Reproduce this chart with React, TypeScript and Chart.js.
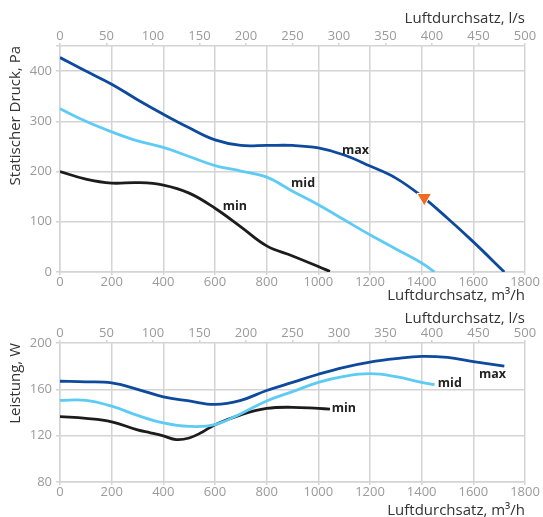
import React, { useEffect, useRef } from "react";
import { Chart, registerables } from "chart.js";

Chart.register(...registerables);

// ---------- data ----------
// Top chart: static pressure (Pa) vs air flow (m³/h)
const pMaxFlow = [0, 100, 200, 300, 400, 500, 600, 700, 800, 900, 1000, 1100, 1200, 1300, 1400, 1500, 1600, 1720];
const pMaxPa = [427, 400, 374, 343, 314, 287, 263, 252, 252, 252, 247, 233, 211, 187, 151, 107, 60, 0];

const pMidFlow = [0, 100, 200, 300, 400, 500, 600, 700, 800, 900, 1000, 1100, 1200, 1300, 1400, 1450];
const pMidPa = [325, 300, 279, 261, 248, 230, 212, 201, 189, 161, 134, 104, 74, 46, 18, 0];

const pMinFlow = [0, 100, 200, 300, 400, 500, 600, 700, 800, 900, 1000, 1045];
const pMinPa = [200, 185, 177, 178, 173, 157, 127, 90, 52, 32, 11, 1];

const markerFlow = [1410];
const markerPa = [148];

// Bottom chart: power (W) vs air flow (m³/h)
const wMaxFlow = [0, 100, 200, 300, 400, 500, 600, 700, 800, 900, 1000, 1100, 1200, 1300, 1400, 1500, 1600, 1720];
const wMaxW = [167, 166.5, 165.5, 160, 153.5, 150, 147, 150.5, 159, 166, 173, 179, 183.5, 186.5, 188.5, 187.5, 184, 180];

const wMidFlow = [0, 100, 200, 300, 400, 500, 600, 700, 800, 900, 1000, 1100, 1200, 1300, 1400, 1450];
const wMidW = [150.5, 150.5, 145.5, 137.5, 131, 128, 129.5, 139, 150, 158, 166, 171.2, 173.5, 171, 166, 164];

const wMinFlow = [0, 100, 200, 300, 350, 400, 450, 500, 550, 600, 700, 800, 900, 1000, 1045];
const wMinW = [136.5, 135, 132, 125, 122.5, 119.8, 116.6, 118, 123, 129.5, 138, 143.5, 144.5, 143.5, 143];

// curve labels (data coordinates)
const labelText = ["max", "mid", "min"];
const pLabelFlow = [1144, 941, 677];
const pLabelPa = [235, 169, 123];
const wLabelFlow = [1674, 1509, 1099];
const wLabelW = [169.8, 162, 140.4];

// axes
const flowMax = 1800;
const flowStep = 200;
const lsMax = 500;
const lsStep = 50;

// ---------- styles ----------
const FONT = "'Open Sans', 'Noto Sans', sans-serif";
const gridColor = "#d4d4d4";
const tickColor = "#9a9a9a";
const titleColor = "#333333";
const colMax = "#0d4a9e";
const colMid = "#5ecbf5";
const colMin = "#1c1c1c";
const colMarker = "#f26a21";

const pts = (xs: number[], ys: number[]) => xs.map((x, i) => ({ x, y: ys[i] }));

const labelPlugin = (xs: number[], ys: number[]) => ({
  id: "curveLabels",
  afterDatasetsDraw(chart: any) {
    const { ctx, scales } = chart;
    ctx.save();
    ctx.font = `bold 12.5px ${FONT}`;
    ctx.fillStyle = "#222222";
    ctx.textAlign = "center";
    ctx.textBaseline = "alphabetic";
    labelText.forEach((t, i) => {
      ctx.fillText(t, scales.x.getPixelForValue(xs[i]), scales.y.getPixelForValue(ys[i]));
    });
    ctx.restore();
  },
});

function lineDs(data: any[], color: string) {
  return {
    type: "line",
    data,
    borderColor: color,
    borderWidth: 2.8,
    pointRadius: 0,
    fill: false,
    tension: 0.4,
  };
}

const plainNum = (v: number) => String(v);

function makeOptions(p: {
  yMin: number;
  yMax: number;
  yStep: number;
  yLabelMax: number;
  yTitle: string;
  topH: number;
  bottomH: number;
  topTitlePad: number;
  bottomTitlePad: number;
}) {
  return {
    responsive: false,
    animation: false,
    layout: { padding: { left: 0, right: 18, top: 0, bottom: 0 } },
    plugins: { legend: { display: false }, tooltip: { enabled: false } },
    scales: {
      x: {
        type: "linear",
        position: "bottom",
        min: 0,
        max: flowMax,
        ticks: {
          stepSize: flowStep,
          color: tickColor,
          font: { family: FONT, size: 13 },
          padding: -1,
          maxRotation: 0,
          callback: plainNum,
        },
        grid: { color: gridColor, lineWidth: 1.5, tickLength: 3 },
        border: { color: gridColor, width: 1.5 },
        title: {
          display: true,
          text: "Luftdurchsatz, m³/h",
          align: "end",
          color: titleColor,
          font: { family: FONT, size: 15 },
          padding: { top: 0, bottom: p.bottomTitlePad },
        },
        afterFit: (s: any) => {
          s.height = p.bottomH;
        },
      },
      x2: {
        type: "linear",
        position: "top",
        min: 0,
        max: lsMax,
        ticks: {
          stepSize: lsStep,
          color: tickColor,
          font: { family: FONT, size: 13 },
          padding: -1,
          maxRotation: 0,
          callback: plainNum,
        },
        grid: { drawOnChartArea: false, color: gridColor, lineWidth: 1.5, tickLength: 3 },
        border: { display: false },
        title: {
          display: true,
          text: "Luftdurchsatz, l/s",
          align: "end",
          color: titleColor,
          font: { family: FONT, size: 15 },
          padding: { top: p.topTitlePad, bottom: 0 },
        },
        afterFit: (s: any) => {
          s.height = p.topH;
        },
      },
      y: {
        type: "linear",
        position: "left",
        min: p.yMin,
        max: p.yMax,
        ticks: {
          stepSize: p.yStep,
          color: tickColor,
          font: { family: FONT, size: 13 },
          padding: 4,
          callback: (v: number) => (v > p.yLabelMax ? "" : String(v)),
        },
        grid: { color: gridColor, lineWidth: 1.5, tickLength: 4 },
        border: { color: gridColor, width: 1.5 },
        title: {
          display: true,
          text: p.yTitle,
          align: "end",
          color: titleColor,
          font: { family: FONT, size: 15 },
          padding: { top: 6.5, bottom: 0 },
        },
        afterFit: (s: any) => {
          s.width = 60;
        },
      },
    },
  };
}

export default function App() {
  const topRef = useRef<HTMLCanvasElement>(null);
  const botRef = useRef<HTMLCanvasElement>(null);

  useEffect(() => {
    const top = new Chart(topRef.current as HTMLCanvasElement, {
      type: "line",
      data: {
        datasets: [
          lineDs(pts(pMaxFlow, pMaxPa), colMax),
          lineDs(pts(pMidFlow, pMidPa), colMid),
          lineDs(pts(pMinFlow, pMinPa), colMin),
          {
            type: "scatter",
            order: -1,
            data: pts(markerFlow, markerPa),
            pointStyle: "triangle",
            pointRotation: 180,
            pointRadius: 8.4,
            pointBackgroundColor: colMarker,
            pointBorderColor: "#ffffff",
            pointBorderWidth: 1,
            clip: false,
          },
        ] as any,
      },
      options: makeOptions({
        yMin: 0,
        yMax: 450,
        yStep: 100,
        yLabelMax: 400,
        yTitle: "Statischer Druck, Pa",
        topH: 46,
        bottomH: 33,
        topTitlePad: 9.5,
        bottomTitlePad: 0,
      }) as any,
      plugins: [labelPlugin(pLabelFlow, pLabelPa)],
    });

    const bot = new Chart(botRef.current as HTMLCanvasElement, {
      type: "line",
      data: {
        datasets: [
          lineDs(pts(wMaxFlow, wMaxW), colMax),
          lineDs(pts(wMidFlow, wMidW), colMid),
          lineDs(pts(wMinFlow, wMinW), colMin),
        ] as any,
      },
      options: makeOptions({
        yMin: 80,
        yMax: 200,
        yStep: 40,
        yLabelMax: 200,
        yTitle: "Leistung, W",
        topH: 38,
        bottomH: 35,
        topTitlePad: 5,
        bottomTitlePad: -2.8,
      }) as any,
      plugins: [labelPlugin(wLabelFlow, wLabelW)],
    });

    return () => {
      top.destroy();
      bot.destroy();
    };
  }, []);

  return (
    <div style={{ position: "absolute", left: 0, top: 0, width: 543, height: 517, background: "#fff" }}>
      <canvas ref={topRef} width={543} height={305} style={{ display: "block" }} />
      <canvas ref={botRef} width={543} height={212} style={{ display: "block" }} />
    </div>
  );
}
